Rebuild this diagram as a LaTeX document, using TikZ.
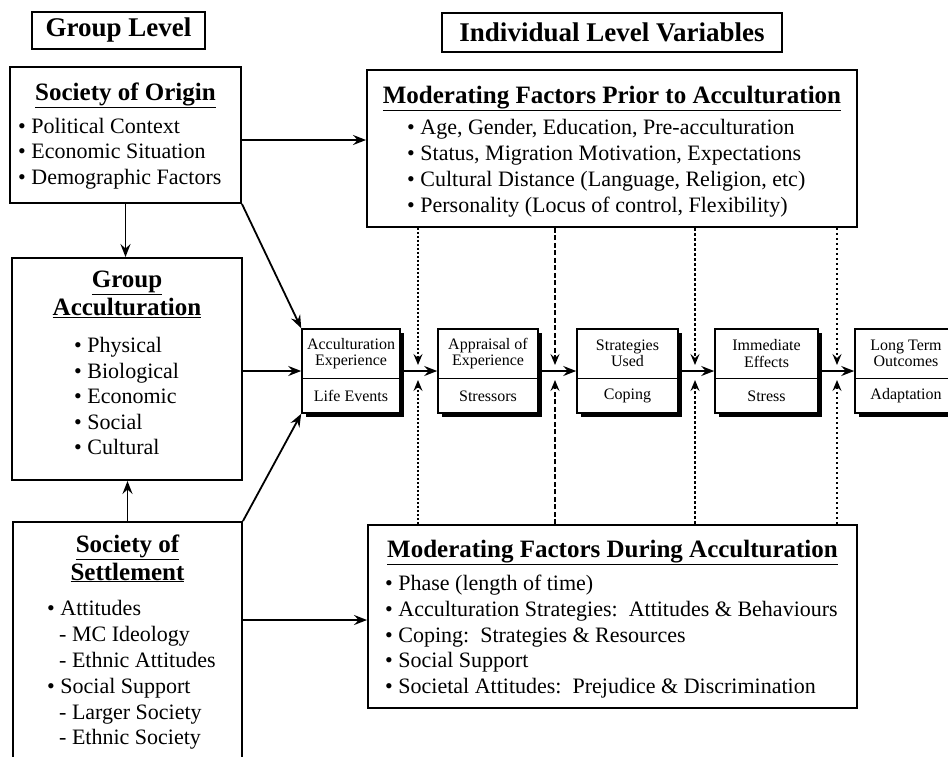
\documentclass[tikz,border=0pt]{standalone}
\usepackage{fontspec}
\setmainfont{Liberation Serif}
\usetikzlibrary{arrows.meta,shadows}

\begin{document}
\begin{tikzpicture}[x=1pt,y=-1pt,
  frame/.style={draw, line width=1.9pt, rectangle, inner sep=0pt, fill=white},
  titlebox/.style={frame, font=\fontsize{27}{30}\selectfont\bfseries},
  smallbox/.style={frame, line width=1.6pt, minimum height=84pt,
    drop shadow={shadow xshift=4pt, shadow yshift=-4pt, fill=black, opacity=1}},
  smalltxt/.style={font=\fontsize{16}{16.5}\selectfont, align=center, inner sep=0pt},
  head/.style={font=\fontsize{25}{29}\selectfont\bfseries, anchor=base, inner sep=0pt},
  body/.style={font=\fontsize{22}{26}\selectfont, anchor=base west, inner sep=0pt},
  arr/.style={line width=1.8pt, -{Stealth[length=13pt, width=10pt, inset=4.5pt]}},
  varr/.style={-{Stealth[length=11pt, width=9pt, inset=4pt]}},
  vA/.style={varr, line width=2.2pt, dash pattern=on 2pt off 2pt},
  vB/.style={varr, line width=1.4pt, dash pattern=on 5pt off 2.5pt},
  vC/.style={varr, line width=1.9pt, dash pattern=on 3pt off 2pt},
  vD/.style={varr, line width=2pt, dash pattern=on 2pt off 3pt}]
\useasboundingbox (0,0) rectangle (948,756);

% title boxes
\node[titlebox, minimum width=173pt, minimum height=37pt] (gl) at (118.5,30.5) {Group Level};
\node[titlebox, minimum width=340pt, minimum height=39pt] (il) at (612,32.5) {Individual Level Variables};

% group level boxes
\node[frame, minimum width=231pt, minimum height=136pt] (soo) at (125.5,135) {};
\node[head] (sooh) at (125.5,100) {\underline{Society of Origin}};
\node[body] (soo1) at (18,133) {• Political Context};
\node[body] (soo2) at (18,158) {• Economic Situation};
\node[body] (soo3) at (18,184) {• Demographic Factors};

\node[frame, minimum width=230pt, minimum height=222pt] (ga) at (127,369) {};
\node[head] (gah1) at (127,287) {\underline{Group}};
\node[head] (gah2) at (127,315) {\underline{Acculturation}};
\node[body] (ga1) at (74,352) {• Physical};
\node[body] (ga2) at (74,378) {• Biological};
\node[body] (ga3) at (74,403) {• Economic};
\node[body] (ga4) at (74,429) {• Social};
\node[body] (ga5) at (74,454) {• Cultural};

\node[frame, minimum width=229pt, minimum height=258pt] (sos) at (127.5,651) {};
\node[head] (sosh1) at (127.5,552) {\underline{Society of}};
\node[head] (sosh2) at (127.5,580) {\underline{Settlement}};
\node[body] (sos1) at (47,615) {• Attitudes};
\node[body] (sos2) at (59,641) {- MC Ideology};
\node[body] (sos3) at (59,667) {- Ethnic Attitudes};
\node[body] (sos4) at (47,693) {• Social Support};
\node[body] (sos5) at (59,719) {- Larger Society};
\node[body] (sos6) at (59,744) {- Ethnic Society};

% moderating factors
\node[frame, minimum width=490pt, minimum height=157pt] (prior) at (612,148.5) {};
\node[head] (priorh) at (612,103) {\underline{Moderating Factors Prior to Acculturation}};
\node[body] (pr1) at (407,134) {• Age, Gender, Education, Pre-acculturation};
\node[body] (pr2) at (407,160) {• Status, Migration Motivation, Expectations};
\node[body] (pr3) at (407,186) {• Cultural Distance (Language, Religion, etc)};
\node[body] (pr4) at (407,212) {• Personality (Locus of control, Flexibility)};

\node[frame, minimum width=489pt, minimum height=183pt] (dur) at (612.5,616.5) {};
\node[head] (durh) at (612.5,557) {\underline{Moderating Factors During Acculturation}};
\node[body] (du1) at (385,590) {• Phase (length of time)};
\node[body] (du2) at (385,616) {• Acculturation Strategies:\ \ Attitudes \& Behaviours};
\node[body] (du3) at (385,642) {• Coping:\ \ Strategies \& Resources};
\node[body] (du4) at (385,667) {• Social Support};
\node[body] (du5) at (385,693) {• Societal Attitudes:\ \ Prejudice \& Discrimination};

% process boxes
\node[smallbox, minimum width=98pt] (acc) at (351,371) {};
\node[smallbox, minimum width=100pt] (app) at (488,371) {};
\node[smallbox, minimum width=101pt] (str) at (627.5,371) {};
\node[smallbox, minimum width=103pt] (imm) at (766.5,371) {};
\node[smallbox, minimum width=102pt] (lon) at (906,371) {};
\foreach \b in {acc,app,str,imm,lon}{
  \draw[line width=1.3pt] ([yshift=-7.5pt]\b.west) -- ([yshift=-7.5pt]\b.east);
}
\node[smalltxt] (acct) at (351,353.5) {Acculturation\\Experience};
\node[smalltxt] (accb) at (351,396) {Life Events};
\node[smalltxt] (appt) at (488,353.5) {Appraisal of\\Experience};
\node[smalltxt] (appb) at (488,396) {Stressors};
\node[smalltxt] (strt) at (627.5,353.5) {Strategies\\Used};
\node[smalltxt] (strb) at (627.5,396) {Coping};
\node[smalltxt] (immt) at (766.5,353.5) {Immediate\\Effects};
\node[smalltxt] (immb) at (766.5,396) {Stress};
\node[smalltxt] (lont) at (906,353.5) {Long Term\\Outcomes};
\node[smalltxt] (lonb) at (906,396) {Adaptation};

% horizontal process arrows
\draw[arr] (acc.east) -- (app.west);
\draw[arr] (app.east) -- (str.west);
\draw[arr] (str.east) -- (imm.west);
\draw[arr] (imm.east) -- (lon.west);

% moderating vertical arrows
\coordinate (t1) at (418,365); \coordinate (b1) at (418,380);
\coordinate (t2) at (555,365); \coordinate (b2) at (555,380);
\coordinate (t3) at (695,365); \coordinate (b3) at (695,380);
\coordinate (t4) at (837,365); \coordinate (b4) at (837,380);
\draw[vA] (prior.south -| t1) -- (t1);
\draw[vA] (dur.north -| b1) -- (b1);
\draw[vB] (prior.south -| t2) -- (t2);
\draw[vB] (dur.north -| b2) -- (b2);
\draw[vC] (prior.south -| t3) -- (t3);
\draw[vC] (dur.north -| b3) -- (b3);
\draw[vD] (prior.south -| t4) -- (t4);
\draw[vD] (dur.north -| b4) -- (b4);

% group level arrows
\draw[arr] ([yshift=-5pt]soo.east) -- ([yshift=-5pt]soo.east -| prior.west);
\draw[arr] (soo.south) -- (soo.south |- ga.north);
\draw[arr] (sos.north) -- (sos.north |- ga.south);
\draw[arr] (soo.south east) -- (acc.north west);
\draw[arr] (acc.west -| ga.east) -- (acc.west);
\draw[arr] (sos.north east) -- (acc.south west);
\draw[arr] ([yshift=-3.5pt]dur.west -| sos.east) -- ([yshift=-3.5pt]dur.west);
\end{tikzpicture}
\end{document}
